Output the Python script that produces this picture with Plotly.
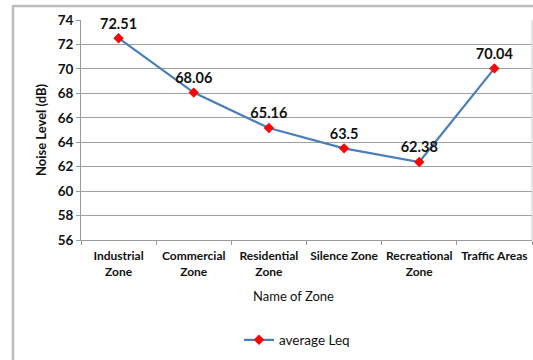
import plotly.graph_objects as go

# Noise level per zone
zones = ["Industrial Zone", "Commercial Zone", "Residential Zone",
         "Silence Zone", "Recreational Zone", "Traffic Areas"]
zone_ticks = ["Industrial<br>Zone", "Commercial<br>Zone", "Residential<br>Zone",
              "Silence Zone", "Recreational<br>Zone", "Traffic Areas"]
avg_leq = [72.51, 68.06, 65.16, 63.5, 62.38, 70.04]
value_labels = ["72.51", "68.06", "65.16", "63.5", "62.38", "70.04"]
y_ticks = [56, 58, 60, 62, 64, 66, 68, 70, 72, 74]

W, H = 533, 360
ML, MR, MT, MB = 81, 1, 20, 120
pw, ph = W - ML - MR, H - MT - MB

def px_x(x):
    return (x - ML) / pw

def px_y(y):
    return (H - MB - y) / ph

FONT = "Lato, 'Open Sans', sans-serif"
INK = "#111111"

fig = go.Figure()
fig.add_trace(go.Scatter(
    x=zones, y=avg_leq, mode="lines+markers+text",
    name="average Leq",
    line=dict(color="#4a7ebb", width=2.2),
    marker=dict(symbol="diamond", color="#ff0000", size=8),
    text=["<b>%s</b>" % t for t in value_labels], textposition="top center",
    textfont=dict(size=14.5, family=FONT, color=INK),
    cliponaxis=False,
))

fig.update_layout(
    width=W, height=H,
    margin=dict(l=ML, r=MR, t=MT, b=MB, autoexpand=False),
    paper_bgcolor="white", plot_bgcolor="white",
    showlegend=True,
    legend=dict(orientation="h", x=px_x(297), y=px_y(340),
                xanchor="center", yanchor="middle", itemwidth=30,
                font=dict(family=FONT, size=13.5, color=INK)),
    xaxis=dict(
        type="category", range=[-0.5, 5.5], automargin=False,
        tickmode="array", tickvals=zones, tickangle=0,
        ticktext=["<b>%s</b>" % t for t in zone_ticks],
        showgrid=False, showline=True, linecolor="#9a9a9a", linewidth=1,
        ticks="outside", ticklen=4, tickcolor="#9a9a9a", tickson="boundaries",
        ticklabelstandoff=5,
        tickfont=dict(size=12, family=FONT, color=INK),
    ),
    yaxis=dict(
        range=[56, 74], automargin=False,
        tickmode="array", tickvals=y_ticks,
        ticktext=["<b>%d</b>" % v for v in y_ticks],
        showgrid=True, gridcolor="#a0a0a0", gridwidth=1,
        showline=True, linecolor="#9a9a9a", linewidth=1,
        ticks="outside", ticklen=4, tickcolor="#9a9a9a",
        tickfont=dict(size=13.5, family=FONT, color=INK),
        zeroline=False,
        title=dict(text="<b>Noise Level (dB)</b>",
                   font=dict(size=13, family=FONT, color=INK), standoff=8),
    ),
    annotations=[
        dict(text="Name of Zone", x=px_x(293), y=px_y(306), xref="paper", yref="paper",
             showarrow=False, font=dict(family=FONT, size=13, color=INK)),
    ],
    shapes=[
        # chart border
        dict(type="rect", xref="paper", yref="paper",
             x0=px_x(13), x1=px_x(545), y0=px_y(375), y1=px_y(6),
             line=dict(color="#bdbdbd", width=2.5), layer="below"),
        # plot area right edge
        dict(type="line", xref="paper", yref="paper",
             x0=1, x1=1, y0=0, y1=1, line=dict(color="#c8c8c8", width=1)),
    ],
)

fig.write_html("out.html")
